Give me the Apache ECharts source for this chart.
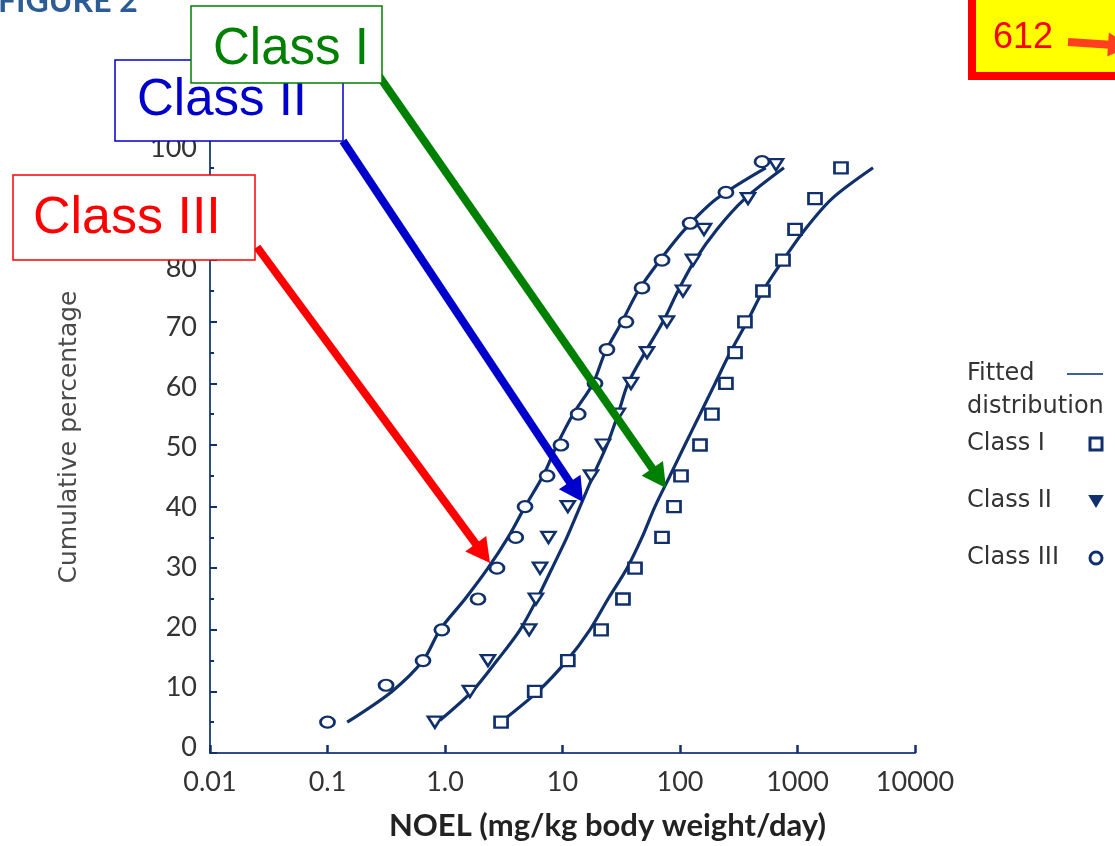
<!DOCTYPE html>
<html>
<head>
<meta charset="utf-8">
<title>Figure 2 - NOEL distributions</title>
<script src="https://cdn.jsdelivr.net/npm/echarts@6/dist/echarts.min.js"></script>
<style>
  html, body { margin: 0; padding: 0; background: #fff; }
  #chart { width: 1115px; height: 846px; }
</style>
</head>
<body>
<div id="chart"></div>
<script>
// log axis ticks
const xTicks = [0.01, 0.1, 1, 10, 100, 1000, 10000]
const xTickLabels = ['0.01', '0.1', '1.0', '10', '100', '1000', '10000']

// observed points: NOEL (mg/kg bw/day) vs cumulative percentage
const class1Noel = [3.0, 5.8, 11.1, 21.3, 32.7, 41.4, 70.3, 88.9, 102, 148, 187, 246, 294, 357, 508, 753, 953, 1409, 2345]
const class1Pct = [5, 10, 15, 20, 25, 30, 35, 40, 45, 50, 55, 60, 65, 70, 75, 80, 85, 90, 95]
const class2Noel = [0.82, 1.63, 2.32, 5.2, 5.94, 6.44, 7.6, 11.1, 17.5, 22.1, 29.6, 38.3, 52.4, 77.4, 106, 129, 160, 379, 656]
const class2Pct = [5, 10, 15, 20, 25, 30, 35, 40, 45, 50, 55, 60, 65, 70, 75, 80, 85, 90, 95.5]
const class3Noel = [0.1, 0.315, 0.65, 0.94, 1.91, 2.77, 4.0, 4.8, 7.4, 9.7, 13.6, 18.9, 23.9, 34.7, 47.5, 70.3, 122, 246, 499]
const class3Pct = [5, 11, 15, 20, 25, 30, 35, 40, 45, 50, 55, 60, 65.5, 70, 75.5, 80, 86, 91, 96]

// fitted distributions
const fitPct = [5.3, 10, 15, 20, 25, 30, 35, 40, 45, 50, 55, 60, 65, 70, 75, 80, 85, 90, 95]
const fit1Noel = [3.12, 6.18, 10.9, 17.1, 24.4, 35.4, 47.5, 61.2, 82.2, 110, 148, 199, 267, 372, 508, 753, 1159, 1967, 4395]
const fit2Noel = [0.906, 1.7, 2.77, 4.35, 6.07, 8.15, 10.9, 14.1, 18.2, 23.9, 29.7, 36.1, 50.3, 71.6, 96, 134, 206, 357, 767]
const fit3Pct = [5, 10, 15, 20, 25, 30, 35, 40, 45, 50, 55, 60, 65, 70, 75, 80, 85, 90, 95]
const fit3Noel = [0.147, 0.354, 0.65, 0.906, 1.48, 2.32, 3.44, 4.8, 6.83, 8.97, 12.3, 18.2, 23, 32.1, 44, 67.6, 110, 206, 537]

const navy = '#10306c'
const axisColor = '#2f4d88'
const labelColor = '#333'
const triangleDown = 'path://M0,0L12,0L6,10Z'
const lineIcon = 'path://M0,0L36,0L36,2L0,2Z'

function pairs (xs, ys) {
  return xs.map((x, i) => [x, ys[i]])
}

// annotation arrow: shaft + head
function arrow (x1, y1, x2, y2, color, width, headLen, headHalf) {
  const dx = x2 - x1
  const dy = y2 - y1
  const len = Math.sqrt(dx * dx + dy * dy)
  const ux = dx / len
  const uy = dy / len
  const bx = x2 - ux * headLen
  const by = y2 - uy * headLen
  return [
    {
      type: 'line',
      z: 100,
      shape: { x1: x1, y1: y1, x2: bx + ux * 2, y2: by + uy * 2 },
      style: { stroke: color, lineWidth: width }
    },
    {
      type: 'polygon',
      z: 100,
      shape: { points: [[x2, y2], [bx - uy * headHalf, by + ux * headHalf], [bx + uy * headHalf, by - ux * headHalf]] },
      style: { fill: color }
    }
  ]
}

function box (x, y, w, h, color, z) {
  return {
    type: 'rect',
    z: z,
    shape: { x: x, y: y, width: w, height: h },
    style: { fill: '#fff', stroke: color, lineWidth: 1.5 }
  }
}

function label (text, x, y, color, size, z) {
  return {
    type: 'text',
    z: z,
    style: { text: text, x: x, y: y, fill: color, font: size + 'px "Liberation Sans", Arial, sans-serif', align: 'left', verticalAlign: 'middle' }
  }
}

const fitLine = {
  type: 'line',
  name: 'Fitted distribution',
  symbol: 'none',
  showSymbol: false,
  smooth: 0.3,
  lineStyle: { color: navy, width: 3.2 },
  itemStyle: { color: navy },
  z: 2
}

const markerStyle = { color: '#fff', borderColor: navy, borderWidth: 2.5, opacity: 1 }

const chart = echarts.init(document.getElementById('chart'))
const option = {
  animation: false,
  backgroundColor: '#fff',
  grid: [
    { left: 210, right: 200, top: 137, bottom: 91 },
    { left: 210, right: 200, top: 148, bottom: 99 }
  ],
  xAxis: [
    {
      type: 'log',
      gridIndex: 0,
      logBase: 10,
      min: 0.01,
      max: 10000,
      splitNumber: 6,
      axisLine: { lineStyle: { color: axisColor, width: 2 } },
      axisTick: { inside: true, length: 8, lineStyle: { color: navy, width: 2.5 } },
      axisLabel: {
        margin: 16,
        fontFamily: 'Lato',
        fontSize: 27,
        color: labelColor,
        formatter: v => {
          const i = xTicks.findIndex(t => Math.abs(Math.log10(t) - Math.log10(v)) < 1e-6)
          return i >= 0 ? xTickLabels[i] : ''
        }
      },
      splitLine: { show: false },
      name: 'NOEL (mg/kg body weight/day)',
      nameLocation: 'middle',
      nameGap: 57,
      nameTextStyle: { fontFamily: 'Lato', fontWeight: 'bold', fontSize: 31, color: '#222', padding: [0, 0, 0, 90] }
    },
    { type: 'value', gridIndex: 1, show: false, min: 0, max: 1 }
  ],
  yAxis: [
    {
      type: 'value',
      gridIndex: 0,
      min: 0,
      max: 100,
      interval: 10,
      axisLine: { show: true, lineStyle: { color: axisColor, width: 2 } },
      axisTick: { show: true, inside: true, length: 7, lineStyle: { color: navy, width: 2 } },
      minorTick: { show: true, splitNumber: 2, length: 4, lineStyle: { color: navy, width: 2 } },
      axisLabel: { show: false },
      splitLine: { show: false },
      minorSplitLine: { show: false },
      name: 'Cumulative percentage',
      nameLocation: 'middle',
      nameGap: 128,
      nameTextStyle: { fontFamily: 'DejaVu Sans', fontSize: 25, color: '#4a4a4a', padding: [0, 0, 0, 16] }
    },
    {
      // tick labels sit on a slightly different scale in the scan
      type: 'value',
      gridIndex: 1,
      min: 0,
      max: 100,
      interval: 10,
      axisLine: { show: false },
      axisTick: { show: false },
      axisLabel: { margin: 13, fontFamily: 'Lato', fontSize: 27, color: labelColor },
      splitLine: { show: false }
    }
  ],
  legend: [
    {
      data: [{ name: 'Fitted distribution', icon: lineIcon, itemStyle: { color: '#3f5f9a', borderWidth: 0 } }],
      selectedMode: false,
      orient: 'vertical',
      left: 967,
      top: 362,
      padding: 0,
      align: 'right',
      itemWidth: 36,
      itemHeight: 12,
      formatter: () => '{a|Fitted}\n{a|distribution}',
      textStyle: {
        fontFamily: 'DejaVu Sans',
        fontSize: 24,
        color: labelColor,
        padding: [33, 0, 0, 0],
        rich: { a: { width: 95, align: 'left', lineHeight: 33, fontFamily: 'DejaVu Sans', fontSize: 24, color: labelColor } }
      }
    },
    {
      data: [
        { name: 'Class I', itemStyle: { borderWidth: 3 } },
        { name: 'Class II', icon: triangleDown, itemStyle: { color: navy } },
        { name: 'Class III', itemStyle: { borderWidth: 3 } }
      ],
      selectedMode: false,
      orient: 'vertical',
      left: 967,
      top: 432,
      padding: 0,
      align: 'right',
      itemGap: 33,
      itemWidth: 12,
      itemHeight: 12,
      formatter: name => '{a|' + name + '}',
      textStyle: {
        fontFamily: 'DejaVu Sans',
        fontSize: 24,
        color: labelColor,
        rich: { a: { width: 118, align: 'left', lineHeight: 30, fontFamily: 'DejaVu Sans', fontSize: 24, color: labelColor } }
      }
    }
  ],
  series: [
    Object.assign({}, fitLine, { data: pairs(fit1Noel, fitPct) }),
    Object.assign({}, fitLine, { data: pairs(fit2Noel, fitPct) }),
    Object.assign({}, fitLine, { data: pairs(fit3Noel, fit3Pct) }),
    {
      type: 'scatter',
      name: 'Class I',
      symbol: 'rect',
      symbolSize: [13, 11],
      itemStyle: markerStyle,
      data: pairs(class1Noel, class1Pct),
      z: 3
    },
    {
      type: 'scatter',
      name: 'Class II',
      symbol: triangleDown,
      symbolSize: [14, 11],
      itemStyle: markerStyle,
      data: pairs(class2Noel, class2Pct),
      z: 3
    },
    {
      type: 'scatter',
      name: 'Class III',
      symbol: 'circle',
      symbolSize: [14, 11],
      itemStyle: markerStyle,
      data: pairs(class3Noel, class3Pct),
      z: 3
    }
  ],
  graphic: [
    {
      type: 'text',
      z: 100,
      style: { text: 'FIGURE 2', x: -2, y: 2, fill: '#2c5c96', font: 'bold 32px Lato, sans-serif', verticalAlign: 'middle' }
    },
    ...arrow(257, 247, 490, 563, '#ff0000', 8, 24, 13),
    ...arrow(343, 141, 583, 502, '#0000cc', 8, 24, 13),
    ...arrow(379, 76, 666, 488, '#008000', 8, 24, 13),
    box(13, 175, 242, 85, '#ff0000', 110),
    label('Class III', 33, 219, '#ff0000', 52, 111),
    box(115, 60, 228, 81, '#0000cc', 112),
    label('Class II', 137, 101, '#0000cc', 51, 113),
    box(191, 6, 191, 77, '#008000', 114),
    label('Class I', 213, 50, '#008000', 51, 115),
    {
      type: 'rect',
      z: 120,
      shape: { x: 972, y: -20, width: 200, height: 96 },
      style: { fill: '#ffff00', stroke: '#ff0000', lineWidth: 8 }
    },
    label('612', 993, 38, '#ff0000', 36, 121),
    ...arrow(1068, 42, 1130, 46, '#ff4020', 8, 22, 12).map(e => Object.assign(e, { z: 121 }))
  ]
}
chart.setOption(option)
</script>
</body>
</html>
